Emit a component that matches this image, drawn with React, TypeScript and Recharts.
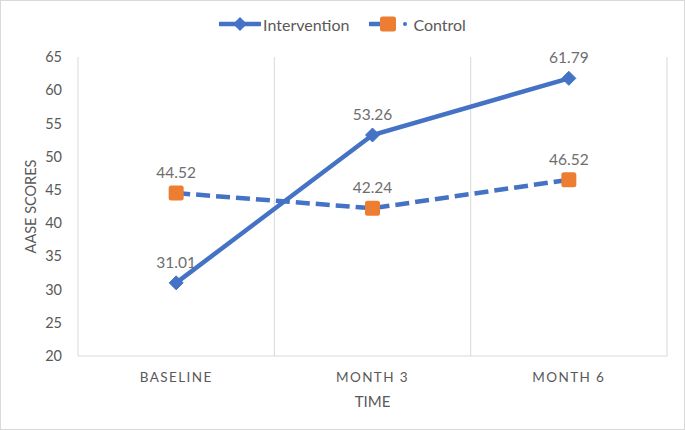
import React from 'react';
import {
    LineChart,
    Line,
    XAxis,
    YAxis,
    CartesianGrid,
    Legend,
    LabelList,
} from 'recharts';

const categories = ['BASELINE', 'MONTH 3', 'MONTH 6'];
const intervention = [31.01, 53.26, 61.79];
const control = [44.52, 42.24, 46.52];
const yTicks = [20, 25, 30, 35, 40, 45, 50, 55, 60, 65];

const BLUE = '#4472C4';
const ORANGE = '#ED7D31';
const TEXT = '#595959';
const LABEL = '#6e6e6e';
const GRID = '#d9d9d9';
const FONT = 'Lato, "Open Sans", sans-serif';

// plot area width / number of categories -> half a band on each side
const PLOT_W = 685 - 78 - 18;
const HALF_BAND = PLOT_W / categories.length / 2;

const data = categories.map((name, i) => ({
    name,
    intervention: intervention[i],
    control: control[i],
}));

const DiamondDot = (props: any) => {
    const { cx, cy } = props;
    if (cx == null || cy == null) return null;
    const r = 7;
    return (
        <polygon
            points={`${cx},${cy - r} ${cx + r},${cy} ${cx},${cy + r} ${cx - r},${cy}`}
            fill={BLUE}
            stroke={BLUE}
            strokeWidth={1}
            strokeLinejoin="round"
        />
    );
};

const SquareDot = (props: any) => {
    const { cx, cy } = props;
    if (cx == null || cy == null) return null;
    const s = 15;
    return <rect x={cx - s / 2} y={cy - s / 2} width={s} height={s} rx={2.5} fill={ORANGE} />;
};

const XTick = ({ x, y, payload }: any) => (
    <text
        x={x}
        y={y}
        dy="0.71em"
        textAnchor="middle"
        fill={TEXT}
        fontSize={13.5}
        letterSpacing={1.4}
        fontFamily={FONT}
    >
        {payload.value}
    </text>
);

const LegendContent = () => (
    <div
        style={{
            height: 30,
            display: 'flex',
            justifyContent: 'center',
            alignItems: 'center',
            gap: 20,
            fontFamily: FONT,
            fontSize: 16,
            color: TEXT,
        }}
    >
        <div style={{ display: 'flex', alignItems: 'center', gap: 2 }}>
            <svg width={42} height={16}>
                <line x1={1} y1={8} x2={41} y2={8} stroke={BLUE} strokeWidth={4.5} strokeLinecap="round" />
                <polygon points="21,1 28,8 21,15 14,8" fill={BLUE} />
            </svg>
            <span>Intervention</span>
        </div>
        <div style={{ display: 'flex', alignItems: 'center', gap: 4 }}>
            <svg width={40} height={16}>
                <line x1={1} y1={8} x2={12} y2={8} stroke={BLUE} strokeWidth={4.5} strokeLinecap="round" />
                <rect x={11} y={0.5} width={16} height={15} rx={2.5} fill={ORANGE} />
                <circle cx={36} cy={8} r={2} fill={BLUE} />
            </svg>
            <span>Control</span>
        </div>
    </div>
);

export default function App() {
    return (
        <div style={{ position: 'fixed', left: 0, top: 0, width: 685, height: 430, background: '#fff' }}>
            <LineChart
                width={685}
                height={430}
                data={data}
                margin={{ top: 27, right: 18, left: 0, bottom: 14 }}
            >
                <CartesianGrid
                    horizontal={false}
                    stroke={GRID}
                    verticalCoordinatesGenerator={({ offset }: any) =>
                        categories.map((_, i) => offset.left + (offset.width * (i + 1)) / categories.length)
                    }
                />
                <XAxis
                    dataKey="name"
                    stroke={GRID}
                    tickLine={false}
                    tickSize={0}
                    tickMargin={16}
                    height={60}
                    padding={{ left: HALF_BAND, right: HALF_BAND }}
                    tick={<XTick />}
                    label={{
                        value: 'TIME',
                        position: 'insideBottom',
                        offset: 9,
                        fill: TEXT,
                        fontSize: 15,
                        fontFamily: FONT,
                    }}
                />
                <YAxis
                    domain={[20, 65]}
                    ticks={yTicks}
                    width={78}
                    stroke={GRID}
                    tickLine={false}
                    tickSize={0}
                    tickMargin={16}
                    tick={{ fill: TEXT, fontSize: 14.5, fontFamily: FONT }}
                    label={{
                        content: ({ viewBox }: any) => {
                            const x = viewBox.x + 30;
                            const y = viewBox.y + viewBox.height / 2;
                            return (
                                <text
                                    x={x}
                                    y={y}
                                    transform={`rotate(-90, ${x}, ${y})`}
                                    textAnchor="middle"
                                    dominantBaseline="central"
                                    fill={TEXT}
                                    fontSize={14.5}
                                    fontFamily={FONT}
                                >
                                    AASE SCORES
                                </text>
                            );
                        },
                    }}
                />
                <Legend
                    verticalAlign="top"
                    content={<LegendContent />}
                    wrapperStyle={{ top: 9, left: 0, width: 685 }}
                />
                <Line
                    type="linear"
                    dataKey="intervention"
                    name="Intervention"
                    stroke={BLUE}
                    strokeWidth={4.5}
                    dot={<DiamondDot />}
                    activeDot={false}
                    isAnimationActive={false}
                >
                    <LabelList dataKey="intervention" position="top" offset={15} fill={LABEL} fontSize={15.5} fontFamily={FONT} />
                </Line>
                <Line
                    type="linear"
                    dataKey="control"
                    name="Control"
                    stroke={BLUE}
                    strokeWidth={4.5}
                    strokeDasharray="14 6"
                    dot={<SquareDot />}
                    activeDot={false}
                    isAnimationActive={false}
                >
                    <LabelList dataKey="control" position="top" offset={15} fill={LABEL} fontSize={15.5} fontFamily={FONT} />
                </Line>
            </LineChart>
            <div
                style={{
                    position: 'absolute',
                    inset: 0,
                    border: '1px solid #d9d9d9',
                    pointerEvents: 'none',
                }}
            />
        </div>
    );
}
